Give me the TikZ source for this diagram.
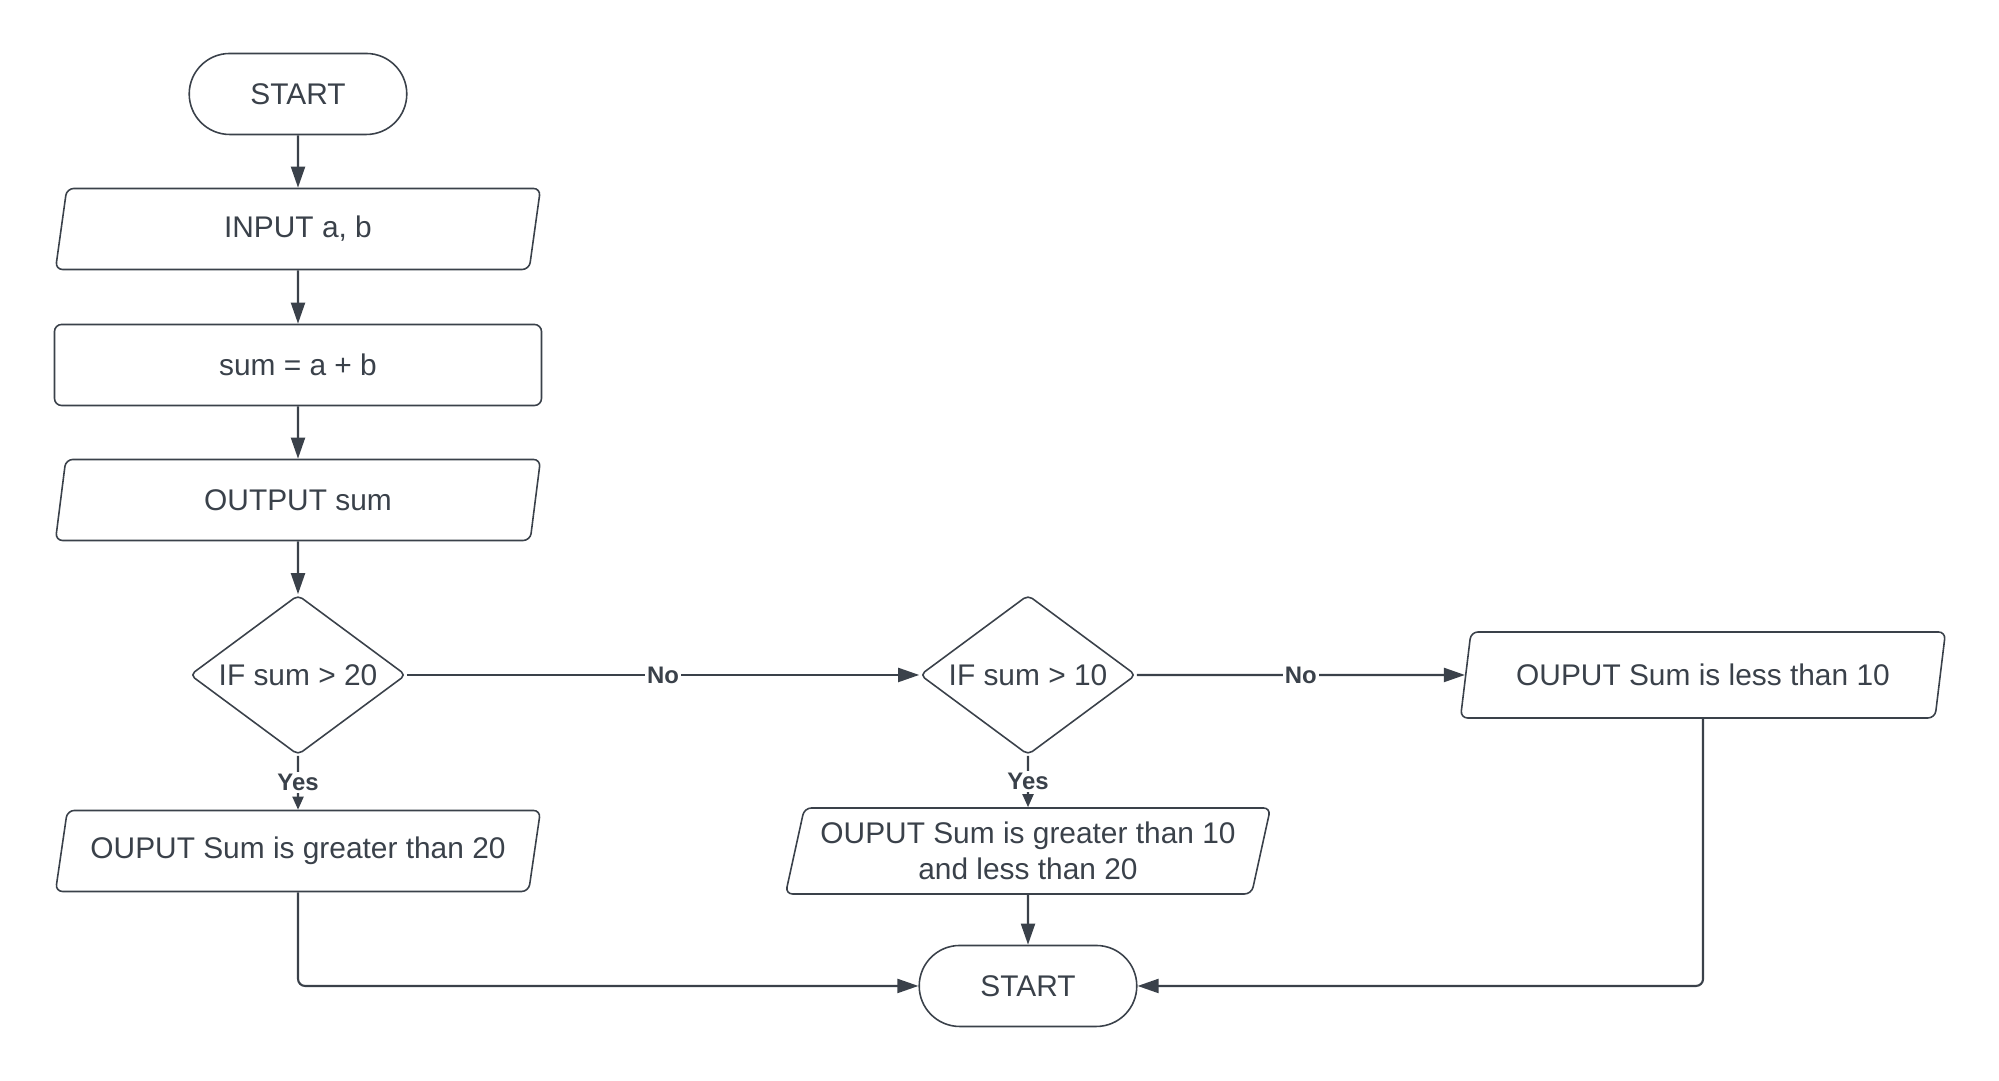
\documentclass[tikz,border=0pt]{standalone}
\usepackage{fontspec}
\setmainfont{Liberation Sans}
\usepackage{tikz}
\usetikzlibrary{shapes.geometric,shapes.misc,arrows.meta}
\definecolor{ink}{HTML}{3A414A}
\def\txt{\fontsize{8.5}{10.4}\selectfont}

\begin{document}
\begin{tikzpicture}[x=1cm,y=1cm,
  every node/.style={text=ink,font=\txt},
  term/.style={rounded rectangle,draw=ink,line width=0.45pt,minimum width=2.41cm,minimum height=0.81cm},
  io/.style={trapezium,trapezium left angle=77,trapezium right angle=103,trapezium stretches body,
    draw=ink,line width=0.45pt,rounded corners=2pt,minimum width=4.85cm,minimum height=0.81cm,align=center},
  proc/.style={rectangle,draw=ink,line width=0.45pt,rounded corners=2pt,minimum width=4.87cm,minimum height=0.81cm},
  dec/.style={diamond,shape aspect=1.35,draw=ink,line width=0.45pt,rounded corners=1.5pt,minimum width=2.16cm,minimum height=1.6cm,inner sep=0pt},
  arr/.style={draw=ink,line width=0.6pt,-{Triangle[length=0.21cm,width=0.14cm]}},
  arrs/.style={draw=ink,line width=0.6pt,-{Triangle[length=0.13cm,width=0.11cm]}},
  lbl/.style={fill=white,inner sep=0.6pt,font=\fontsize{6.8}{8}\selectfont\bfseries}]
\useasboundingbox (0,0) rectangle (19.99,10.81);
% main column
\node[term] (start) at (2.98,9.87) {START};
\node[io] (input) at (2.98,8.52) {INPUT a, b};
\node[proc] (sum) at (2.98,7.16) {sum = a + b};
\node[io] (outsum) at (2.98,5.81) {OUTPUT sum};
% decisions
\node[dec] (ifa) at (2.98,4.06) {IF sum > 20};
\node[dec] (ifb) at (10.28,4.06) {IF sum > 10};
\node[io,minimum height=0.86cm] (less) at (17.03,4.06) {OUPUT Sum is less than 10};
% outputs
\node[io] (great) at (2.98,2.30) {OUPUT Sum is greater than 20};
\node[io,minimum height=0.86cm] (mid) at (10.28,2.30) {OUPUT Sum is greater than 10\\and less than 20};
\node[term] (stop) at (10.28,0.95) {START};

\draw[arr] (start) -- (input);
\draw[arr] (input) -- (sum);
\draw[arr] (sum) -- (outsum);
\draw[arr] (outsum) -- (ifa);
\draw[arr] (ifa) -- node[lbl] {No} (ifb);
\draw[arr] (ifb) -- node[lbl] {No} (less);
\draw[arrs] (ifa) -- node[lbl] {Yes} (great);
\draw[arrs] (ifb) -- node[lbl] {Yes} (mid);
\draw[arr] (mid) -- (stop);
\draw[arr,rounded corners=2pt] (great.south) |- (stop.west);
\draw[arr,rounded corners=2pt] (less.south) |- (stop.east);
\end{tikzpicture}
\end{document}
